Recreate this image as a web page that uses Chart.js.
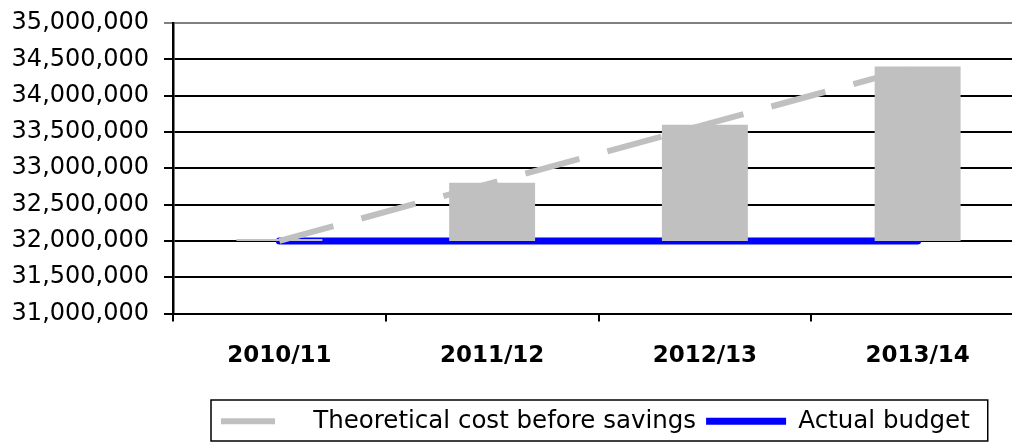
<!DOCTYPE html>
<html>
<head>
<meta charset="utf-8">
<script src="https://cdn.jsdelivr.net/npm/chart.js@4/dist/chart.umd.min.js"></script>
<style>
    html, body { margin: 0; padding: 0; overflow: hidden; background: #fff; }
    #wrap { position: relative; width: 1024px; height: 443px; }
</style>
</head>
<body>
<div id="wrap"><canvas id="chart"></canvas></div>
<script>
const categories = ["2010/11", "2011/12", "2012/13", "2013/14"];
const theoreticalCost = [32000000, 32800000, 33600000, 34400000];
const actualBudget = [32000000, 32000000, 32000000, 32000000];
const yTicks = [31000000, 31500000, 32000000, 32500000, 33000000, 33500000, 34000000, 34500000, 35000000];

// gap between budget and theoretical cost, drawn as floating bars
var gapBars = categories.map(function (_, i) {
    return [actualBudget[i], theoreticalCost[i]];
});

Chart.defaults.font.family = "DejaVu Sans";
Chart.defaults.color = "#000";

// moves the legend under the plot like the original and boxes it
var legendBox = {
    id: "legendBox",
    afterLayout: function (chart) {
        var legend = chart.legend;
        var itemsWidth = legend.lineWidths[0] - legend.options.labels.padding;
        var dx = 221 - ((legend.left + legend.right) / 2 - itemsWidth / 2);
        legend.left += dx;
        legend.right += dx;
        var dy = 399 - legend.top;
        legend.top += dy;
        legend.bottom += dy;
    },
    afterDraw: function (chart) {
        var boxes = chart.legend.legendHitBoxes;
        if (!boxes || !boxes.length) return;
        var first = boxes[0];
        var last = boxes[boxes.length - 1];
        var ctx = chart.ctx;
        ctx.save();
        ctx.strokeStyle = "#000";
        ctx.lineWidth = 1.5;
        ctx.strokeRect(first.left - 10, first.top - 9, last.left + last.width + 28 - first.left, 41);
        ctx.restore();
    },
};

var ctx = document.getElementById("chart").getContext("2d");
var myChart = new Chart(ctx, {
    type: "bar",
    data: {
        labels: categories,
        datasets: [
            {
                label: "Savings",
                data: gapBars,
                backgroundColor: "#c0c0c0",
                borderWidth: 0,
                minBarLength: 2,
                barPercentage: 0.404,
                categoryPercentage: 1,
                order: 1,
            },
            {
                type: "line",
                label: "Theoretical cost before savings",
                data: theoreticalCost,
                borderColor: "#c0c0c0",
                backgroundColor: "#c0c0c0",
                borderWidth: 6,
                borderDash: [56, 29],
                borderCapStyle: "butt",
                pointRadius: 0,
                fill: false,
                order: 2,
            },
            {
                type: "line",
                label: "Actual budget",
                data: actualBudget,
                borderColor: "#0000ff",
                backgroundColor: "#0000ff",
                borderWidth: 7,
                borderCapStyle: "round",
                pointRadius: 0,
                fill: false,
                order: 3,
            },
        ],
    },
    options: {
        responsive: true,
        maintainAspectRatio: false,
        animation: false,
        layout: {
            padding: { top: 23, left: 0, right: 0, bottom: 0 },
        },
        plugins: {
            tooltip: { enabled: false },
            legend: {
                position: "bottom",
                labels: {
                    font: { size: 24.5 },
                    color: "#000",
                    usePointStyle: true,
                    pointStyle: "line",
                    pointStyleWidth: 80,
                    padding: 10,
                    filter: function (item) {
                        return item.datasetIndex !== 0;
                    },
                    generateLabels: function (chart) {
                        var items = Chart.defaults.plugins.legend.labels.generateLabels(chart);
                        items.forEach(function (item) {
                            // only one long dash in the key, as in the original
                            if (item.datasetIndex === 1) item.lineDash = [54, 300];
                        });
                        return items;
                    },
                },
            },
        },
        scales: {
            x: {
                grid: {
                    display: true,
                    offset: true,
                    drawOnChartArea: false,
                    drawTicks: true,
                    tickLength: 8,
                    color: "#000",
                    lineWidth: 2,
                },
                border: { display: true, color: "#000", width: 2 },
                ticks: {
                    font: { size: 23, weight: "bold" },
                    color: "#000",
                    padding: 21,
                    maxRotation: 0,
                },
                afterFit: function (scale) {
                    scale.height = 85;
                },
            },
            y: {
                min: 31000000,
                max: 35000000,
                afterBuildTicks: function (scale) {
                    scale.ticks = yTicks.map(function (v) {
                        return { value: v };
                    });
                },
                grid: {
                    color: function (c) {
                        return c.tick && c.tick.value === 35000000 ? "#808080" : "#000";
                    },
                    lineWidth: 2,
                    tickLength: 9,
                },
                border: { display: true, color: "#000", width: 2.5 },
                ticks: {
                    font: { size: 24 },
                    color: "#000",
                    padding: 15,
                    callback: function (value) {
                        return Number(value).toLocaleString("en-US");
                    },
                },
                afterFit: function (scale) {
                    scale.width = 173;
                    scale.paddingTop = 0;
                    scale.paddingBottom = 0;
                },
            },
        },
    },
    plugins: [legendBox],
});
</script>
</body>
</html>
